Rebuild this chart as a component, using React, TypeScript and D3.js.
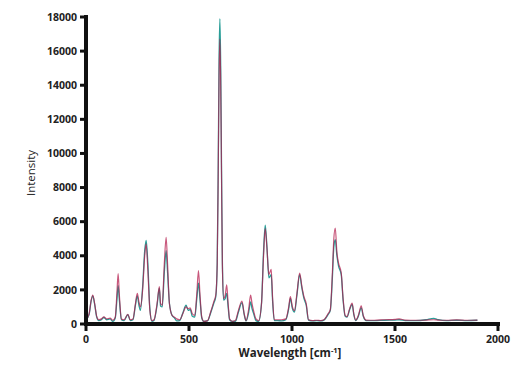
import React from 'react';
import * as d3 from 'd3';

// wavelength knots [cm-1] shared by both spectra
const wavelengths = [
  0, 15, 25, 33, 42, 52, 62, 75, 87, 100, 117, 130, 142, 150, 156, 162, 172, 185, 203, 215,
  228, 240, 249, 257, 264, 275, 285, 292, 300, 310, 320, 330, 345, 356, 362, 370, 380, 389, 396, 405,
  418, 430, 440, 455, 470, 486, 496, 506, 516, 528, 538, 546, 553, 562, 572, 590, 605, 620, 630, 637,
  642, 646, 650, 654, 658, 662, 668, 676, 683, 690, 697, 710, 725, 740, 757, 768, 777, 790, 799, 806,
  814, 825, 838, 852, 862, 870, 878, 888, 899, 906, 914, 930, 950, 970, 984, 992, 1002, 1012, 1024, 1037,
  1048, 1058, 1069, 1080, 1100, 1120, 1140, 1155, 1175, 1186, 1196, 1203, 1210, 1218, 1226, 1239, 1248, 1258, 1267, 1280,
  1292, 1300, 1309, 1322, 1336, 1346, 1360, 1400, 1450, 1500, 1520, 1550, 1600, 1650, 1688, 1710, 1750, 1800, 1850, 1900,
];

const redSeries = [
  250, 600, 1400, 1700, 1200, 450, 250, 300, 420, 300, 350, 220, 400, 1800, 2950, 1700, 300, 250, 570, 250,
  300, 1200, 1800, 1300, 1000, 2000, 4000, 4700, 3200, 800, 200, 250, 1200, 2200, 1200, 1100, 3500, 5080, 3500, 1200,
  500, 400, 300, 250, 600, 1000, 900, 950, 600, 500, 1800, 3130, 1800, 400, 150, 200, 700, 1300, 1700, 3500,
  9000, 14500, 16700, 14000, 8500, 3500, 1500, 1700, 2300, 1200, 300, 150, 200, 800, 1350, 600, 200, 900, 1700, 1200,
  750, 300, 200, 1200, 4000, 5600, 4500, 2900, 3200, 1500, 250, 250, 250, 300, 1000, 1600, 1000, 780, 1800, 2980,
  2200, 1600, 1200, 250, 200, 220, 200, 250, 600, 850, 3000, 5000, 5630, 4200, 3570, 3000, 1500, 500, 430, 900,
  1220, 600, 230, 500, 1060, 500, 230, 220, 250, 270, 300, 230, 220, 230, 250, 230, 220, 240, 220, 230,
];

const tealSeries = [
  250, 550, 1350, 1650, 1150, 400, 200, 250, 380, 250, 300, 150, 350, 1400, 2250, 1400, 250, 200, 550, 200,
  250, 1100, 1650, 1100, 800, 2200, 4300, 4900, 3600, 900, 150, 200, 1100, 2100, 1050, 1000, 3000, 4300, 3000, 1200,
  500, 350, 180, 200, 650, 1100, 800, 850, 450, 400, 1500, 2400, 1500, 350, 150, 180, 650, 1200, 1600, 3600,
  9500, 15500, 17900, 15000, 9000, 3700, 1400, 1500, 1800, 1000, 250, 150, 150, 700, 1250, 550, 180, 700, 1300, 900,
  600, 200, 150, 1200, 4300, 5800, 4600, 2700, 2900, 1300, 200, 200, 180, 250, 900, 1500, 900, 700, 1700, 2900,
  2100, 1500, 1100, 230, 180, 200, 180, 230, 550, 800, 2700, 4500, 4940, 4000, 3400, 2900, 1400, 450, 400, 850,
  1150, 550, 200, 450, 950, 450, 200, 200, 220, 230, 250, 200, 200, 250, 330, 250, 200, 220, 200, 220,
];

const xTicks = [0, 500, 1000, 1500, 2000];
const yTicks = [0, 2000, 4000, 6000, 8000, 10000, 12000, 14000, 16000, 18000];

const W = 520;
const H = 368;
const font = '"Open Sans", "DejaVu Sans", sans-serif';

export default function App() {
  const x = d3.scaleLinear().domain([0, 2000]).range([86, 498]);
  const y = d3.scaleLinear().domain([0, 18000]).range([324, 17]);

  const line = d3
    .line<number>()
    .x((_, i) => x(wavelengths[i]))
    .y((d) => y(d))
    .curve(d3.curveMonotoneX);

  return (
    <div style={{ position: 'fixed', left: 0, top: 0 }}>
      <svg width={W} height={H} style={{ display: 'block', background: '#fff' }}>
        <path d={line(tealSeries) || ''} fill="none" stroke="#2a9e98" strokeWidth={1.3} />
        <path d={line(redSeries) || ''} fill="none" stroke="#b3184a" strokeWidth={1.2} strokeOpacity={0.72} />

        {/* y axis */}
        <line x1={86} x2={86} y1={15} y2={326} stroke="#111" strokeWidth={4} />
        {yTicks.map((t) => (
          <g key={'y' + t}>
            <line x1={80} x2={86} y1={y(t)} y2={y(t)} stroke="#111" strokeWidth={3} />
            <text x={77} y={y(t)} dy="0.35em" textAnchor="end" fontFamily={font} fontWeight={700} fontSize={10.5} fill="#222">
              {t}
            </text>
          </g>
        ))}

        {/* x axis */}
        <line x1={84} x2={500} y1={324} y2={324} stroke="#111" strokeWidth={4} />
        {xTicks.map((t) => (
          <g key={'x' + t}>
            <line x1={x(t)} x2={x(t)} y1={324} y2={331} stroke="#111" strokeWidth={3} />
            <text x={x(t)} y={339} dy="0.35em" textAnchor="middle" fontFamily={font} fontWeight={700} fontSize={10.5} fill="#222">
              {t}
            </text>
          </g>
        ))}

        <text
          transform={`translate(35,173) rotate(-90)`}
          textAnchor="middle"
          fontFamily={font}
          fontSize={11.5}
          fill="#222"
        >
          Intensity
        </text>
        <text x={290} y={353} dy="0.35em" textAnchor="middle" fontFamily={font} fontWeight={700} fontSize={11.5} fill="#222">
          Wavelength [cm<tspan dy="-4" fontSize={7.5}>-1</tspan>
          <tspan dy="4">]</tspan>
        </text>
      </svg>
    </div>
  );
}
